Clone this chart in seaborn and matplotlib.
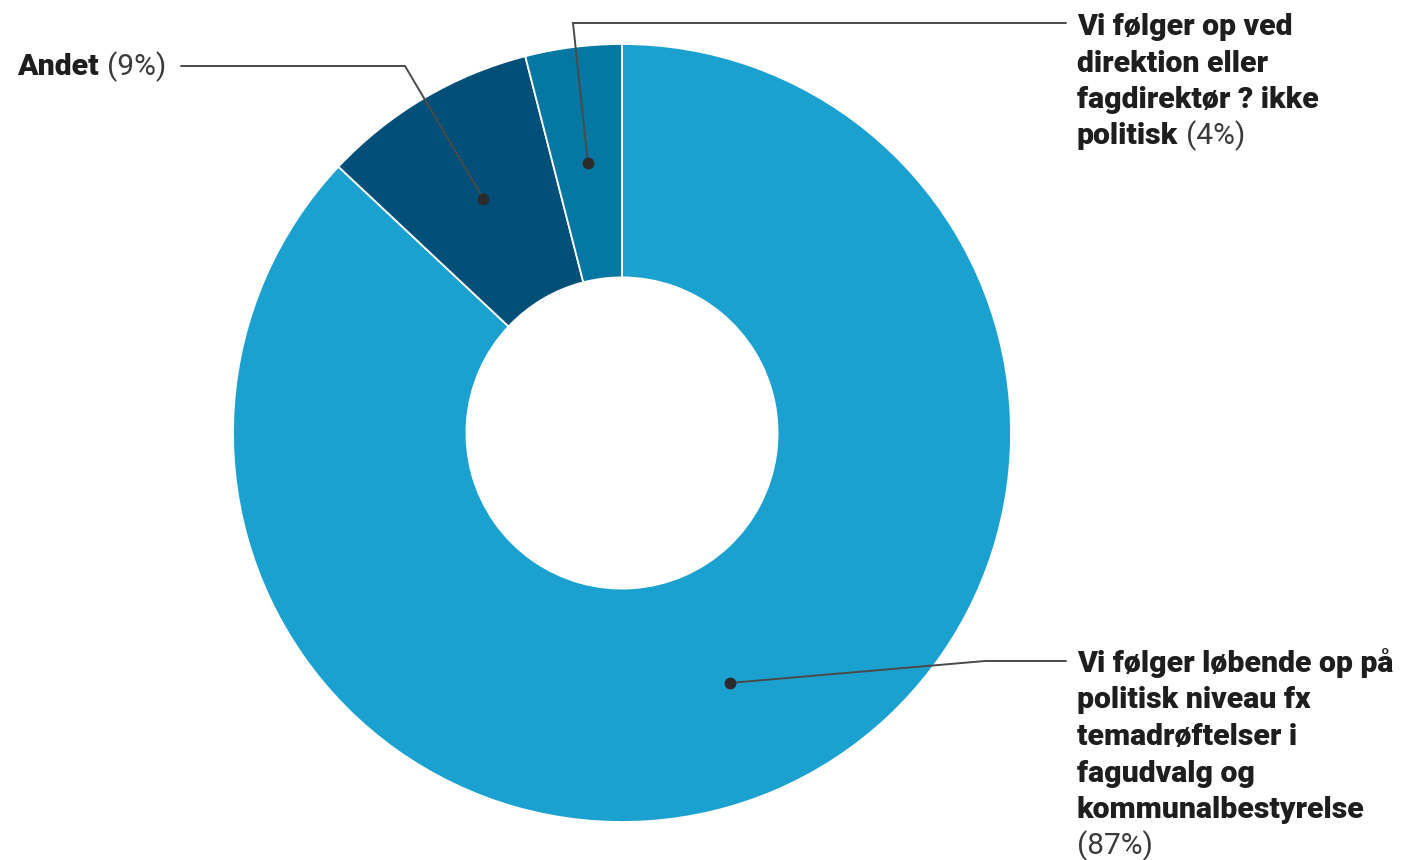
import textwrap
import numpy as np
import matplotlib
matplotlib.use("Agg")
import matplotlib.pyplot as plt
import seaborn as sns

# ---------------------- data ----------------------
categories = [
    "Vi følger løbende op på politisk niveau fx temadrøftelser i fagudvalg og kommunalbestyrelse",
    "Andet",
    "Vi følger op ved direktion eller fagdirektør ? ikke politisk",
]
shares = [87, 9, 4]
palette = ["#1ba1cf", "#004f79", "#0477a3"]

# ---------------------- layout ----------------------
W, H = 1407, 860
CX, CY, R = 622, 433, 389          # donut centre / radius in pixels
FS_BOLD = 21.8                     # label font sizes (pt)
FS_REG = 21.5
LINE_PX = 36.5                     # line step of the labels (px)
# per slice: elbow and end of the leader line (px), text x (px), first baseline (px)
leaders = [
    dict(elbow=(985, 661), end=(1066, 661), tx=1077, base=672),
    dict(elbow=(405, 66), end=(181, 66), tx=17, base=75),
    dict(elbow=(573, 23), end=(1066, 23), tx=1077, base=35),
]

sns.set_theme(style="white")
plt.rcParams["font.family"] = ["Roboto", "DejaVu Sans"]

fig = plt.figure(figsize=(W / 100, H / 100), dpi=100)
ax = fig.add_axes([(CX - R) / W, (H - CY - R) / H, 2 * R / W, 2 * R / H])

wedges, _ = ax.pie(shares, colors=palette, startangle=90, counterclock=False,
                   radius=1, wedgeprops=dict(width=0.6, edgecolor="white", linewidth=1.3))
ax.set_xlim(-1, 1)
ax.set_ylim(-1, 1)
ax.set_aspect("auto")
ax.axis("off")


def px2data(p):
    return (p[0] - CX) / R, (CY - p[1]) / R


renderer = fig.canvas.get_renderer()

for w, name, val, ld in zip(wedges, categories, shares, leaders):
    mid = np.deg2rad((w.theta1 + w.theta2) / 2)
    dot = (0.7 * np.cos(mid), 0.7 * np.sin(mid))
    ex, ey = px2data(ld["elbow"])
    nx, ny = px2data(ld["end"])
    ax.plot([dot[0], ex, nx], [dot[1], ey, ny], color="#4a4a4a", lw=1.4,
            clip_on=False, solid_joinstyle="miter")
    ax.plot(dot[0], dot[1], "o", color="#2b2b2b", ms=7.5, clip_on=False)

    pct = f"({val}%)"
    lines = textwrap.wrap(f"{name} {pct}", width=23)
    for i, line in enumerate(lines):
        fy = 1 - (ld["base"] + i * LINE_PX) / H
        fx = ld["tx"] / W
        if line.endswith(pct):
            bold = line[: -len(pct)].rstrip()
            x = fx
            if bold:
                t = fig.text(fx, fy, bold, fontsize=FS_BOLD, fontweight="black",
                             color="#1e1e1e", va="baseline", ha="left")
                bb = t.get_window_extent(renderer)
                x = (bb.x1 + 0.27 * FS_REG * 100 / 72) / W
            fig.text(x, fy, pct, fontsize=FS_REG, color="#3a3a3a",
                     va="baseline", ha="left")
        else:
            fig.text(fx, fy, line, fontsize=FS_BOLD, fontweight="black",
                     color="#1e1e1e", va="baseline", ha="left")

fig.savefig("out.png", dpi=100, facecolor="white")
